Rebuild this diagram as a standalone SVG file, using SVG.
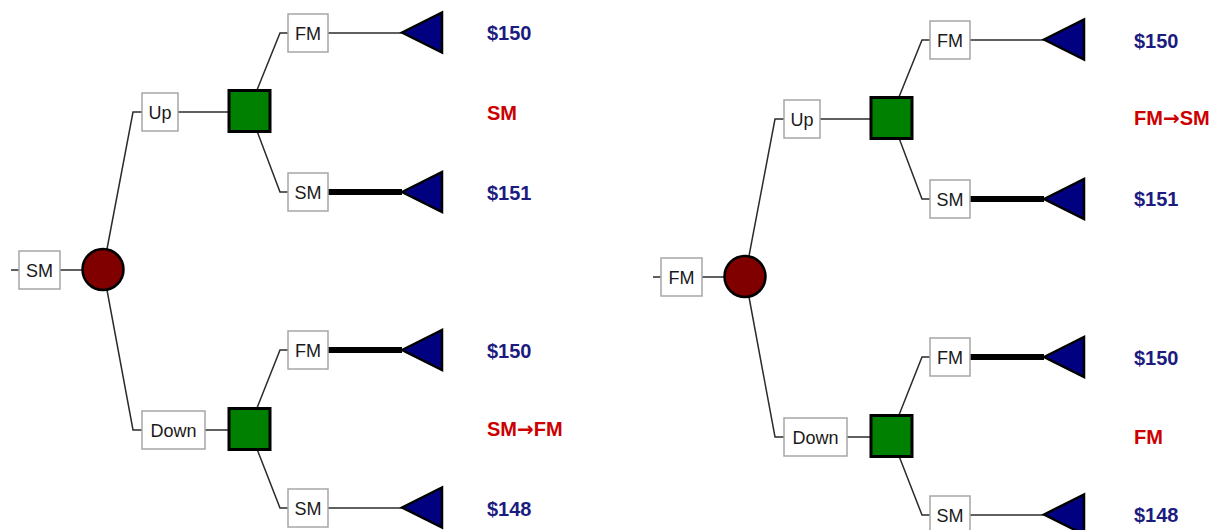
<svg xmlns="http://www.w3.org/2000/svg" width="1224" height="530" viewBox="0 0 1224 530">
<style>
.bg{fill:#ffffff}
.box{fill:#ffffff;stroke:#a6a6a6;stroke-width:1.5}
.lbl{font-family:"Liberation Sans",Arial,sans-serif;font-size:18px;fill:#1a1a1a;text-anchor:middle}
.chance{fill:#800000;stroke:#000000;stroke-width:2.5}
.dec{fill:#008000;stroke:#000000;stroke-width:3}
.term{fill:#000080;stroke:#000000;stroke-width:2.5;stroke-linejoin:miter}
.edge{fill:none;stroke:#2b2b2b;stroke-width:1.5}
.thick{fill:none;stroke:#000000;stroke-width:6}
.val{font-family:"Liberation Sans",Arial,sans-serif;font-size:20px;font-weight:bold;fill:#1c1c80}
.res{font-family:"Liberation Sans",Arial,sans-serif;font-size:20px;font-weight:bold;fill:#cc0000}
.arr{font-family:"DejaVu Sans",sans-serif;font-weight:bold}
</style>
<rect class="bg" x="0" y="0" width="1224" height="530"/>

<g id="treeLeft">
  <g id="connectorsLeft">
    <line class="edge" x1="11" y1="270" x2="19" y2="270"/>
    <line class="edge" x1="60" y1="270" x2="82" y2="270"/>
    <path class="edge" d="M107,249 L133,112 L142,112"/>
    <path class="edge" d="M107,290 L133,430 L142,430"/>
    <line class="edge" x1="178" y1="112" x2="229" y2="112"/>
    <line class="edge" x1="205" y1="430" x2="229" y2="430"/>
    <path class="edge" d="M257,90 L280,33 L288,33"/>
    <path class="edge" d="M257,131 L280,192 L288,192"/>
    <path class="edge" d="M257,408 L280,350 L288,350"/>
    <path class="edge" d="M257,449 L280,508 L288,508"/>
    <line class="edge" x1="328" y1="33" x2="402" y2="33"/>
    <line class="thick" x1="328" y1="192" x2="402" y2="192"/>
    <line class="thick" x1="328" y1="350" x2="402" y2="350"/>
    <line class="edge" x1="328" y1="508" x2="402" y2="508"/>
  </g>
  <g id="L-root"><rect class="box" x="19" y="251" width="41" height="38"/><text class="lbl" x="39.5" y="276.5">SM</text></g>
  <g id="L-chance"><circle class="chance" cx="103" cy="269.5" r="20.5"/></g>
  <g id="L-up"><rect class="box" x="142" y="93" width="36" height="38"/><text class="lbl" x="160" y="118.5">Up</text></g>
  <g id="L-down"><rect class="box" x="142" y="411" width="63" height="38"/><text class="lbl" x="173.5" y="436.5">Down</text></g>
  <g id="L-dec1"><rect class="dec" x="229" y="90.5" width="41" height="41"/></g>
  <g id="L-dec2"><rect class="dec" x="229" y="408.5" width="41" height="41"/></g>
  <g id="L-fm1"><rect class="box" x="288" y="14" width="40" height="38"/><text class="lbl" x="308" y="39.5">FM</text></g>
  <g id="L-sm1"><rect class="box" x="288" y="173" width="40" height="38"/><text class="lbl" x="308" y="198.5">SM</text></g>
  <g id="L-fm2"><rect class="box" x="288" y="331" width="40" height="38"/><text class="lbl" x="308" y="356.5">FM</text></g>
  <g id="L-sm2"><rect class="box" x="288" y="489" width="40" height="38"/><text class="lbl" x="308" y="514.5">SM</text></g>
  <g id="L-t1"><polygon class="term" points="402,32.5 442,12.5 442,52.5"/></g>
  <g id="L-t2"><polygon class="term" points="402,192 442,172 442,212"/></g>
  <g id="L-t3"><polygon class="term" points="402,350 442,330 442,370"/></g>
  <g id="L-t4"><polygon class="term" points="402,507.5 442,487.5 442,527.5"/></g>
  <g id="L-texts">
    <text class="val" x="487" y="40">$150</text>
    <text class="res" x="487" y="120">SM</text>
    <text class="val" x="487" y="200">$151</text>
    <text class="val" x="487" y="358">$150</text>
    <text class="res" x="487" y="436">SM<tspan class="arr">→</tspan>FM</text>
    <text class="val" x="487" y="516">$148</text>
  </g>
</g>

<g id="treeRight" transform="translate(642,7)">
  <g id="connectorsRight">
    <line class="edge" x1="11" y1="270" x2="19" y2="270"/>
    <line class="edge" x1="60" y1="270" x2="82" y2="270"/>
    <path class="edge" d="M107,249 L133,112 L142,112"/>
    <path class="edge" d="M107,290 L133,430 L142,430"/>
    <line class="edge" x1="178" y1="112" x2="229" y2="112"/>
    <line class="edge" x1="205" y1="430" x2="229" y2="430"/>
    <path class="edge" d="M257,90 L280,33 L288,33"/>
    <path class="edge" d="M257,131 L280,192 L288,192"/>
    <path class="edge" d="M257,408 L280,350 L288,350"/>
    <path class="edge" d="M257,449 L280,508 L288,508"/>
    <line class="edge" x1="328" y1="33" x2="402" y2="33"/>
    <line class="thick" x1="328" y1="192" x2="402" y2="192"/>
    <line class="thick" x1="328" y1="350" x2="402" y2="350"/>
    <line class="edge" x1="328" y1="508" x2="402" y2="508"/>
  </g>
  <g id="R-root"><rect class="box" x="19" y="251" width="41" height="38"/><text class="lbl" x="39.5" y="276.5">FM</text></g>
  <g id="R-chance"><circle class="chance" cx="103" cy="269.5" r="20.5"/></g>
  <g id="R-up"><rect class="box" x="142" y="93" width="36" height="38"/><text class="lbl" x="160" y="118.5">Up</text></g>
  <g id="R-down"><rect class="box" x="142" y="411" width="63" height="38"/><text class="lbl" x="173.5" y="436.5">Down</text></g>
  <g id="R-dec1"><rect class="dec" x="229" y="90.5" width="41" height="41"/></g>
  <g id="R-dec2"><rect class="dec" x="229" y="408.5" width="41" height="41"/></g>
  <g id="R-fm1"><rect class="box" x="288" y="14" width="40" height="38"/><text class="lbl" x="308" y="39.5">FM</text></g>
  <g id="R-sm1"><rect class="box" x="288" y="173" width="40" height="38"/><text class="lbl" x="308" y="198.5">SM</text></g>
  <g id="R-fm2"><rect class="box" x="288" y="331" width="40" height="38"/><text class="lbl" x="308" y="356.5">FM</text></g>
  <g id="R-sm2"><rect class="box" x="288" y="489" width="40" height="38"/><text class="lbl" x="308" y="514.5">SM</text></g>
  <g id="R-t1"><polygon class="term" points="402,32.5 442,12.5 442,52.5"/></g>
  <g id="R-t2"><polygon class="term" points="402,192 442,172 442,212"/></g>
  <g id="R-t3"><polygon class="term" points="402,350 442,330 442,370"/></g>
  <g id="R-t4"><polygon class="term" points="402,507.5 442,487.5 442,527.5"/></g>
  <g id="R-texts">
    <text class="val" x="492" y="41">$150</text>
    <text class="res" x="492" y="118">FM<tspan class="arr">→</tspan>SM</text>
    <text class="val" x="492" y="199">$151</text>
    <text class="val" x="492" y="358">$150</text>
    <text class="res" x="492" y="437">FM</text>
    <text class="val" x="492" y="515">$148</text>
  </g>
</g>
</svg>
